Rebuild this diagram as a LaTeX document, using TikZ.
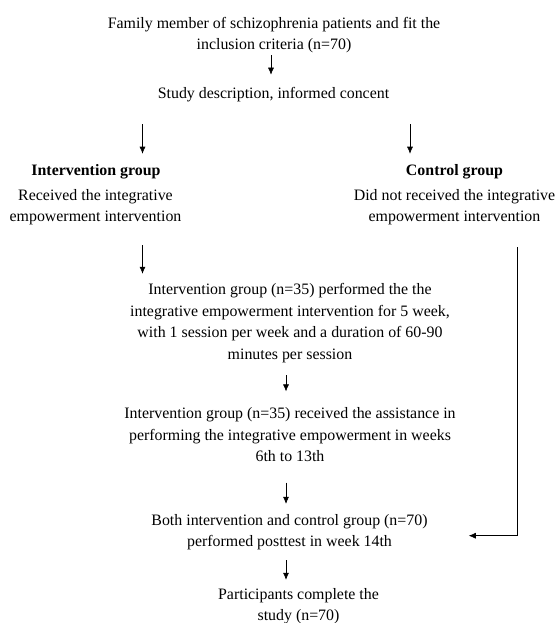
\documentclass[tikz,border=0pt]{standalone}
\usepackage{fontspec}
\setmainfont{Liberation Serif}
\usetikzlibrary{arrows.meta}

\tikzset{
  txt/.style={inner sep=0pt, align=center, font=\fontsize{15.9}{21.5}\selectfont},
  head/.style={txt, font=\fontsize{15.9}{21.5}\selectfont\bfseries},
  arr/.style={-{Latex[length=7pt,width=6pt]}, line width=0.6pt}
}

\begin{document}
\begin{tikzpicture}[x=1pt,y=-1pt]
\useasboundingbox (0,0) rectangle (556,623);

\node[txt] (fam) at (274,35) {Family member of schizophrenia patients and fit the\\inclusion criteria (n=70)};
\node[txt] (study) at (273.5,95) {Study description, informed concent};

\node[head] (ig) at (96,172) {Intervention group};
\node[head] (cg) at (454.5,172) {Control group};

\node[txt] (recv) at (95.5,207) {Received the integrative\\empowerment intervention};
\node[txt] (notrecv) at (454.5,207) {Did not received the integrative\\empowerment intervention};

\node[txt] (perf) at (290,323) {Intervention group (n=35) performed the the\\integrative empowerment intervention for 5 week,\\with 1 session per week and a duration of 60-90\\minutes per session};
\node[txt] (assist) at (290,435) {Intervention group (n=35) received the assistance in\\performing the integrative empowerment in weeks\\6th to 13th};
\node[txt] (post) at (289.5,532) {Both intervention and control group (n=70)\\performed posttest in week 14th};
\node[txt] (done) at (298.5,606) {Participants complete the\\study (n=70)};

%\coordinate (x) at (0,0);
\coordinate (sl) at (142.5,124);
\coordinate (sr) at (410,124);
\coordinate (il) at (142.5,245);
\coordinate (cr) at (517,247);

\draw[arr] ([xshift=-3pt,yshift=-2pt]fam.south) -- ([xshift=-2.5pt,yshift=12.8pt]study.north);
\draw[arr, shorten >=10.8pt] (sl) -- (sl |- ig.north);
\draw[arr, shorten >=10.8pt] (sr) -- (sr |- cg.north);
\draw[arr, shorten >=9.5pt] (il) -- (il |- perf.north);
\draw[arr] ([xshift=-4pt,yshift=-12.5pt]perf.south) -- ([xshift=-4pt,yshift=16.3pt]assist.north);
\draw[arr] ([xshift=-4pt,yshift=-20.3pt]assist.south) -- ([xshift=-3.5pt,yshift=10pt]post.north);
\draw[arr] ([xshift=-3.5pt,yshift=-10pt]post.south) -- ([xshift=-12.5pt,yshift=8pt]done.north);
\draw[arr, shorten >=41pt] (cr) |- ([yshift=-3.7pt]post.east);

\end{tikzpicture}
\end{document}
